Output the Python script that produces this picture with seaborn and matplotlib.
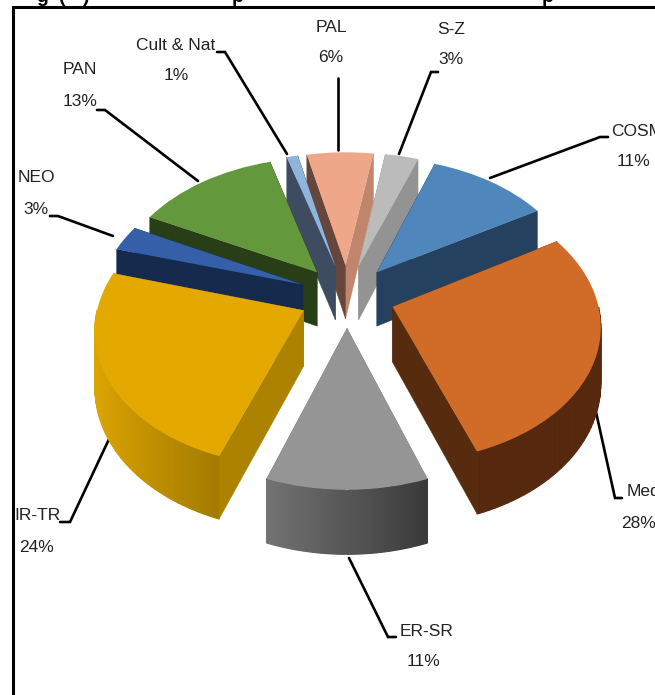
import numpy as np
import matplotlib
matplotlib.use("Agg")
import matplotlib.pyplot as plt
from matplotlib.colors import to_rgb
from matplotlib.transforms import Transform
import seaborn as sns

# ---- data
categories = ["ER-SR", "IR-TR", "NEO", "PAN", "Cult & Nat", "PAL", "S-Z", "COSM", "Med"]
percent = [11, 24, 3, 13, 1, 6, 3, 11, 28]

# ---- styles
top_colors = ["#959595", "#e3a900", "#355fa8", "#63993c", "#8fb4de", "#efa78a", "#bbbbbb", "#4f87bd", "#d06b28"]
wall_right = ["#777777", "#ad8200", "#152a4d", "#283e16", "#3d4c60", "#c0856d", "#939393", "#24425f", "#562b0e"]
wall_left = ["#777777", "#ad8200", "#152a4d", "#283e16", "#3d4c60", "#66463a", "#939393", "#24425f", "#562b0e"]
rim_left = ["#737373", "#e0a800", "#152a4d", "#283e16", "#3d4c60", "#66463a", "#939393", "#24425f", "#56290e"]
rim_right = ["#3a3a3a", "#a37b00", "#152a4d", "#283e16", "#3d4c60", "#66463a", "#939393", "#24425f", "#56290e"]

CX, CY, R, TILT, PERSP, DEPTH = 347, 296, 204, 0.655, 0.12, 55
EXPLODE = 0.235
W, H = 655, 695


def project(x, y, z=0.0):
    s = 1 / (1 + PERSP * y)
    return CX + R * x * s, CY - R * TILT * y * s + DEPTH * s * z


class Perspective(Transform):
    input_dims = output_dims = 2
    is_separable = False
    has_inverse = False

    def transform_non_affine(self, values):
        px, py = project(values[:, 0], values[:, 1])
        return np.column_stack([px, py])


sns.set_theme(style="white")
plt.rcParams["font.family"] = ["Liberation Sans", "DejaVu Sans"]

fig = plt.figure(figsize=(W / 100, H / 100), dpi=100, facecolor="white")
ax = fig.add_axes([0, 0, 1, 1])

# Slices run clockwise, ER-SR is centred on the viewer-facing side
wedges, _ = ax.pie(percent, colors=top_colors, explode=[EXPLODE] * len(percent),
                   startangle=-90 + 0.11 * 180, counterclock=False, radius=1.0,
                   wedgeprops=dict(linewidth=0))
ax.set_aspect("auto")
ax.set_xlim(0, W)
ax.set_ylim(H, 0)
ax.axis("off")

persp = Perspective()


def wall(cx, cy, ang, color, z):
    ex, ey = cx + np.cos(np.radians(ang)), cy + np.sin(np.radians(ang))
    xs = [project(cx, cy, 0), project(ex, ey, 0), project(ex, ey, 1), project(cx, cy, 1)]
    ax.fill(*zip(*xs), color=color, lw=0.3, zorder=z)


order = sorted(range(len(wedges)), key=lambda i: wedges[i].center[1], reverse=True)
for rank, i in enumerate(order):
    w = wedges[i]
    cx, cy = w.center
    z = 10 + rank * 4
    wall(cx, cy, w.theta1, wall_right[i], z)
    wall(cx, cy, w.theta2, wall_left[i], z + 0.5)
    # rim: only the part that faces the viewer, in strips so it can shade left to right
    angs = np.linspace(w.theta1, w.theta2, 60)
    rx = cx + np.cos(np.radians(angs))
    xmin, xmax = rx.min(), rx.max()
    c0, c1 = np.array(to_rgb(rim_left[i])), np.array(to_rgb(rim_right[i]))
    for k in range(len(angs) - 1):
        a0, a1 = np.radians(angs[k]), np.radians(angs[k + 1])
        if np.sin((a0 + a1) / 2) > 0:
            continue
        p = [(cx + np.cos(a0), cy + np.sin(a0), 0), (cx + np.cos(a1), cy + np.sin(a1), 0),
             (cx + np.cos(a1), cy + np.sin(a1), 1), (cx + np.cos(a0), cy + np.sin(a0), 1)]
        f = (cx + np.cos((a0 + a1) / 2) - xmin) / max(xmax - xmin, 1e-6)
        col = c0 + (c1 - c0) * f
        ax.fill(*zip(*[project(*q) for q in p]), facecolor=col, edgecolor=col, lw=0.8, zorder=z + 1)
    w.set_transform(persp + ax.transData)
    w.set_zorder(z + 2)

# ---- labels and leader lines
label_font = 12.5
labels = [
    ("PAL", "6%", 331, 28, 331, 57, "center", [(338, 78), (338, 150)]),
    ("S-Z", "3%", 451, 30, 451, 60, "center", [(438, 72), (431, 72), (399, 154)]),
    ("COSM", "11%", 611, 132, 634, 162, "left", [(608, 137), (600, 137), (490, 178)]),
    ("Med", "28%", 627, 491, 639, 523, "left", [(596, 412), (615, 498), (622, 498)]),
    ("ER-SR", "11%", 400, 631, 423, 661, "left", [(349, 558), (388, 637), (396, 637)]),
    ("IR-TR", "24%", 37, 515, 37, 547, "center", [(110, 437), (70, 522), (60, 522)]),
    ("NEO", "3%", 36, 177, 36, 209, "center", [(113, 236), (58, 216), (50, 216)]),
    ("PAN", "13%", 80, 69, 80, 101, "center", [(198, 181), (105, 110), (97, 110)]),
    ("Cult & Nat", "1%", 176, 45, 176, 76, "center", [(287, 154), (225, 52), (217, 52)]),
]
for name, pct, nx, ny, px, py, ha, line in labels:
    ax.text(nx, ny, name, ha=ha, va="center", fontsize=label_font, color="#222222", zorder=100)
    ax.text(px, py, pct, ha="center", va="center", fontsize=label_font, color="#222222", zorder=100)
    ax.plot(*zip(*line), color="black", lw=1.9, solid_joinstyle="miter", zorder=5)

# ---- frame (the figure is cropped on the right and bottom)
ax.plot([13, 13, W + 5], [H + 5, 6.5, 6.5], color="black", lw=2.2, solid_joinstyle="miter", zorder=200)

# ---- what is left of the cropped bold title above the frame
for txt, tx in [("g", 42), ("(", 62), (")", 86), ("p", 238), ("p", 548)]:
    ax.text(tx, 1.5, txt, ha="center", va="baseline", fontsize=14, fontweight="bold", color="black", zorder=150)

fig.savefig("out.png", dpi=100)
